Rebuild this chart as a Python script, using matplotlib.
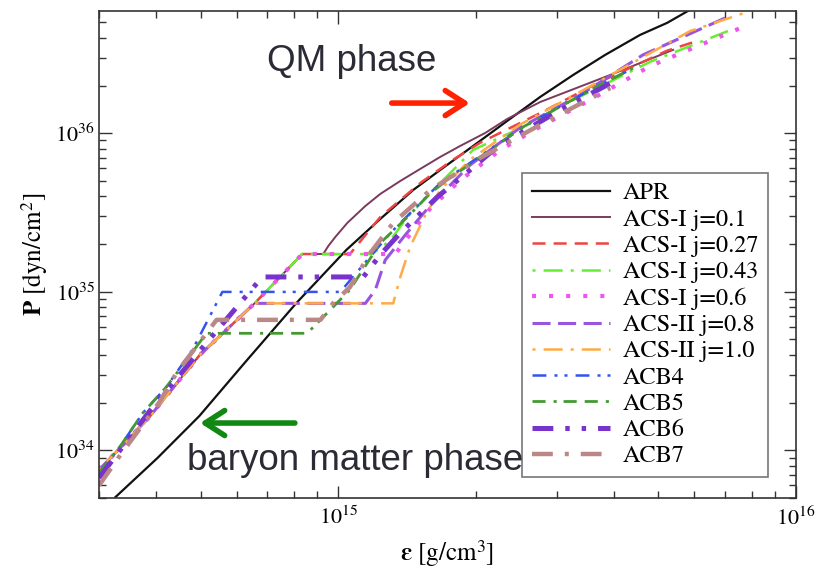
import numpy as np
import matplotlib
matplotlib.use("Agg")
import matplotlib.pyplot as plt
from matplotlib.ticker import NullFormatter

plt.rcParams['font.family'] = 'STIXGeneral'
plt.rcParams['mathtext.fontset'] = 'stix'
plt.rcParams['lines.scale_dashes'] = False

# energy density eps [g/cm^3] and pressure P [dyn/cm^2]
apr_eps = [3.26e14, 4.025e14, 4.97e14, 6.265e14, 8.1e14, 1.041e15, 1.235e15, 1.458e15,
           1.67e15, 1.971e15, 2.339e15, 2.761e15, 3.26e15, 3.828e15, 4.565e15, 5.228e15,
           5.81e15]
apr_p = [5.075e33, 8.94e33, 1.646e34, 3.606e34, 8.5e34, 1.835e35, 2.879e35, 4.389e35,
         5.868e35, 8.317e35, 1.196e36, 1.694e36, 2.332e36, 3.119e36, 4.172e36, 4.966e36,
         5.91e36]

acs01_eps = [3.0e14, 3.87e14, 4.98e14, 6.56e14, 8.34e14, 9.27e14, 9.51e14, 9.85e14,
             1.046e15, 1.146e15, 1.235e15, 1.366e15, 1.51e15, 1.67e15, 1.847e15, 2.094e15,
             2.339e15, 2.761e15, 3.93e15, 5.39e15]
acs01_p = [7.5e33, 1.63e34, 3.99e34, 8.45e34, 1.73e35, 1.73e35, 1.945e35, 2.216e35,
           2.716e35, 3.478e35, 4.14e35, 5.0e35, 5.955e35, 7.09e35, 8.32e35, 1.004e36,
           1.231e36, 1.574e36, 2.333e36, 3.357e36]

acs027_eps = [3.0e14, 3.87e14, 4.98e14, 6.56e14, 8.34e14, 1.06e15, 1.235e15, 1.51e15,
              1.78e15, 2.04e15, 2.76e15, 3.73e15, 5.22e15, 6.08e15]
acs027_p = [7.5e33, 1.63e34, 3.99e34, 8.45e34, 1.73e35, 1.73e35, 2.96e35, 4.85e35,
            6.8e35, 8.7e35, 1.34e36, 2.11e36, 3.31e36, 3.82e36]

acs043_eps = [3.0e14, 3.87e14, 4.98e14, 6.56e14, 8.34e14, 1.186e15, 1.30e15, 1.416e15,
              1.67e15, 1.97e15, 2.54e15, 3.26e15, 4.8e15, 7.1e15]
acs043_p = [7.5e33, 1.63e34, 3.99e34, 8.45e34, 1.73e35, 1.73e35, 2.12e35, 2.96e35,
            4.85e35, 7.85e35, 1.10e36, 1.62e36, 2.82e36, 4.41e36]

acs06_eps = [3.0e14, 3.87e14, 4.98e14, 6.56e14, 8.34e14, 1.332e15, 1.458e15, 1.59e15,
             1.85e15, 2.26e15, 2.76e15, 3.55e15, 4.8e15, 7.66e15]
acs06_p = [7.5e33, 1.63e34, 3.99e34, 8.45e34, 1.73e35, 1.73e35, 2.45e35, 3.37e35,
           5.07e35, 7.85e35, 1.10e36, 1.62e36, 2.65e36, 4.68e36]

acs2_08_eps = [3.0e14, 3.87e14, 4.98e14, 6.56e14, 1.146e15, 1.205e15, 1.266e15, 1.40e15,
               1.59e15, 1.94e15, 2.49e15, 3.37e15, 4.63e15, 7.0e15]
acs2_08_p = [7.5e33, 1.63e34, 3.99e34, 8.45e34, 8.45e34, 1.03e35, 1.585e35, 2.28e35,
             3.52e35, 6.3e35, 1.08e36, 1.74e36, 3.12e36, 5.33e36]

acs2_10_eps = [3.0e14, 3.87e14, 4.98e14, 6.56e14, 1.318e15, 1.366e15, 1.435e15, 1.55e15,
               1.67e15, 1.94e15, 2.49e15, 3.37e15, 5.87e15, 7.94e15]
acs2_10_p = [7.5e33, 1.63e34, 3.99e34, 8.45e34, 8.45e34, 1.24e35, 1.92e35, 3.05e35,
             4.39e35, 6.8e35, 1.13e36, 1.82e36, 4.41e36, 5.9e36]

acb4_eps = [3.0e14, 3.33e14, 3.74e14, 4.21e14, 4.80e14, 5.58e14, 1.01e15, 1.157e15,
            1.30e15, 1.533e15, 1.67e15, 2.54e15, 3.73e15, 4.34e15]
acb4_p = [7.2e33, 1.05e34, 1.72e34, 2.51e34, 4.30e34, 9.98e34, 9.98e34, 1.585e35,
          2.35e35, 3.79e35, 4.85e35, 1.10e36, 2.02e36, 2.51e36]

acb5_eps = [3.0e14, 3.33e14, 3.74e14, 4.21e14, 5.15e14, 8.55e14, 9.75e14, 1.06e15,
            1.235e15, 1.416e15, 1.59e15, 1.73e15, 2.54e15, 3.73e15, 4.56e15]
acb5_p = [7.2e33, 1.05e34, 1.72e34, 2.51e34, 5.47e34, 5.47e34, 8.04e34, 1.03e35,
          2.03e35, 2.96e35, 4.2e35, 5.07e35, 1.10e36, 2.02e36, 2.70e36]

acb6_eps = [3.0e14, 3.89e14, 5.0e14, 6.82e14, 1.134e15, 1.235e15, 1.366e15, 1.645e15,
            1.94e15, 2.22e15, 3.05e15, 4.13e15]
acb6_p = [6.7e33, 1.80e34, 4.3e34, 1.24e35, 1.24e35, 1.71e35, 2.35e35, 3.96e35,
          5.86e35, 8.18e35, 1.40e36, 2.23e36]

acb7_eps = [3.0e14, 3.34e14, 4.06e14, 4.43e14, 5.42e14, 9.14e14, 9.75e14, 1.06e15,
            1.175e15, 1.318e15, 1.59e15, 2.04e15, 2.76e15, 3.93e15]
acb7_p = [6.0e33, 9.35e33, 2.0e34, 3.08e34, 6.65e34, 6.65e34, 8.5e34, 1.07e35,
          1.76e35, 2.72e35, 4.39e35, 6.98e35, 1.13e36, 1.93e36]

labels = ['APR', 'ACS-I j=0.1', 'ACS-I j=0.27', 'ACS-I j=0.43', 'ACS-I j=0.6',
          'ACS-II j=0.8', 'ACS-II j=1.0', 'ACB4', 'ACB5', 'ACB6', 'ACB7']
curves = [(apr_eps, apr_p), (acs01_eps, acs01_p), (acs027_eps, acs027_p),
          (acs043_eps, acs043_p), (acs06_eps, acs06_p), (acs2_08_eps, acs2_08_p),
          (acs2_10_eps, acs2_10_p), (acb4_eps, acb4_p), (acb5_eps, acb5_p),
          (acb6_eps, acb6_p), (acb7_eps, acb7_p)]

styles = [
    dict(color='#111111', lw=1.6, ls='-'),
    dict(color='#7a3a5e', lw=1.4, ls='-'),
    dict(color='#ee4444', lw=1.8, ls=(0, (9.4, 5.8))),
    dict(color='#66ee33', lw=1.8, ls=(0, (2.2, 5.8, 13.7, 5.8))),
    dict(color='#ee55ee', lw=3.0, ls=(0, (2.9, 9.4))),
    dict(color='#9955dd', lw=2.2, ls=(0, (13.0, 5.4))),
    dict(color='#ffaa44', lw=1.8, ls=(0, (2.2, 5.8, 13.7, 5.8))),
    dict(color='#3355ee', lw=1.8, ls=(0, (10.0, 5.8, 2.2, 5.0, 2.2, 5.8))),
    dict(color='#449933', lw=2.0, ls=(0, (9.4, 5.8, 2.2, 5.0, 9.4, 5.8))),
    dict(color='#7733cc', lw=3.6, ls=(0, (15.0, 8.6, 3.2, 8.6, 3.2, 8.6))),
    dict(color='#bb8888', lw=3.2, ls=(0, (15.0, 8.6, 2.9, 8.6))),
]

fig = plt.figure(figsize=(8.17, 5.71), dpi=100)
ax = fig.add_axes([0.1212, 0.1278, 0.8531, 0.8529])

for (x, y), lab, st in zip(curves, labels, styles):
    ax.plot(x, y, label=lab, **st)

ax.set_xscale('log')
ax.set_yscale('log')
ax.set_xlim(3.0e14, 1.0e16)
ax.set_ylim(5.0e33, 5.9e36)
ax.xaxis.set_minor_formatter(NullFormatter())
ax.yaxis.set_minor_formatter(NullFormatter())
ax.tick_params(which='both', direction='in', top=True, right=True, width=1.0,
               colors='#333333', labelcolor='black', labelsize=16)
ax.tick_params(which='major', length=9)
ax.tick_params(which='minor', length=5)
ax.tick_params(axis='x', pad=6)
ax.tick_params(axis='y', pad=3)
for sp in ax.spines.values():
    sp.set_color('#333333')
    sp.set_linewidth(1.2)

ax.set_xlabel(r'$\mathbf{\varepsilon}$ [g/cm$^3$]', fontsize=18, labelpad=6)
ax.set_ylabel(r'$\mathbf{P}$ [dyn/cm$^2$]', fontsize=18, labelpad=4)

leg = ax.legend(loc='lower right', bbox_to_anchor=(0.960, 0.043), borderaxespad=0,
                fancybox=False, edgecolor='#777777', framealpha=1, fontsize=17.5,
                handlelength=3.2, handletextpad=0.55, borderpad=0.4, labelspacing=0.175)
leg.get_frame().set_linewidth(1.2)

ax.text(0.241, 0.877, 'QM phase', transform=ax.transAxes, fontsize=26.5,
        family='Liberation Sans', color='#2b2b36', ha='left', va='baseline')
ax.text(0.126, 0.0575, 'baryon matter phase', transform=ax.transAxes, fontsize=26.5,
        family='Liberation Sans', color='#2b2b36', ha='left', va='baseline', zorder=10)

ax.annotate('', xy=(0.532, 0.811), xytext=(0.420, 0.811), xycoords='axes fraction',
            arrowprops=dict(arrowstyle='->,head_length=0.7,head_width=0.45', lw=4,
                            color='#ff2200', shrinkA=0, shrinkB=0, mutation_scale=20))
ax.annotate('', xy=(0.145, 0.154), xytext=(0.281, 0.154), xycoords='axes fraction',
            arrowprops=dict(arrowstyle='->,head_length=0.7,head_width=0.45', lw=4,
                            color='#118811', shrinkA=0, shrinkB=0, mutation_scale=20))

fig.savefig('out.png', dpi=100)
